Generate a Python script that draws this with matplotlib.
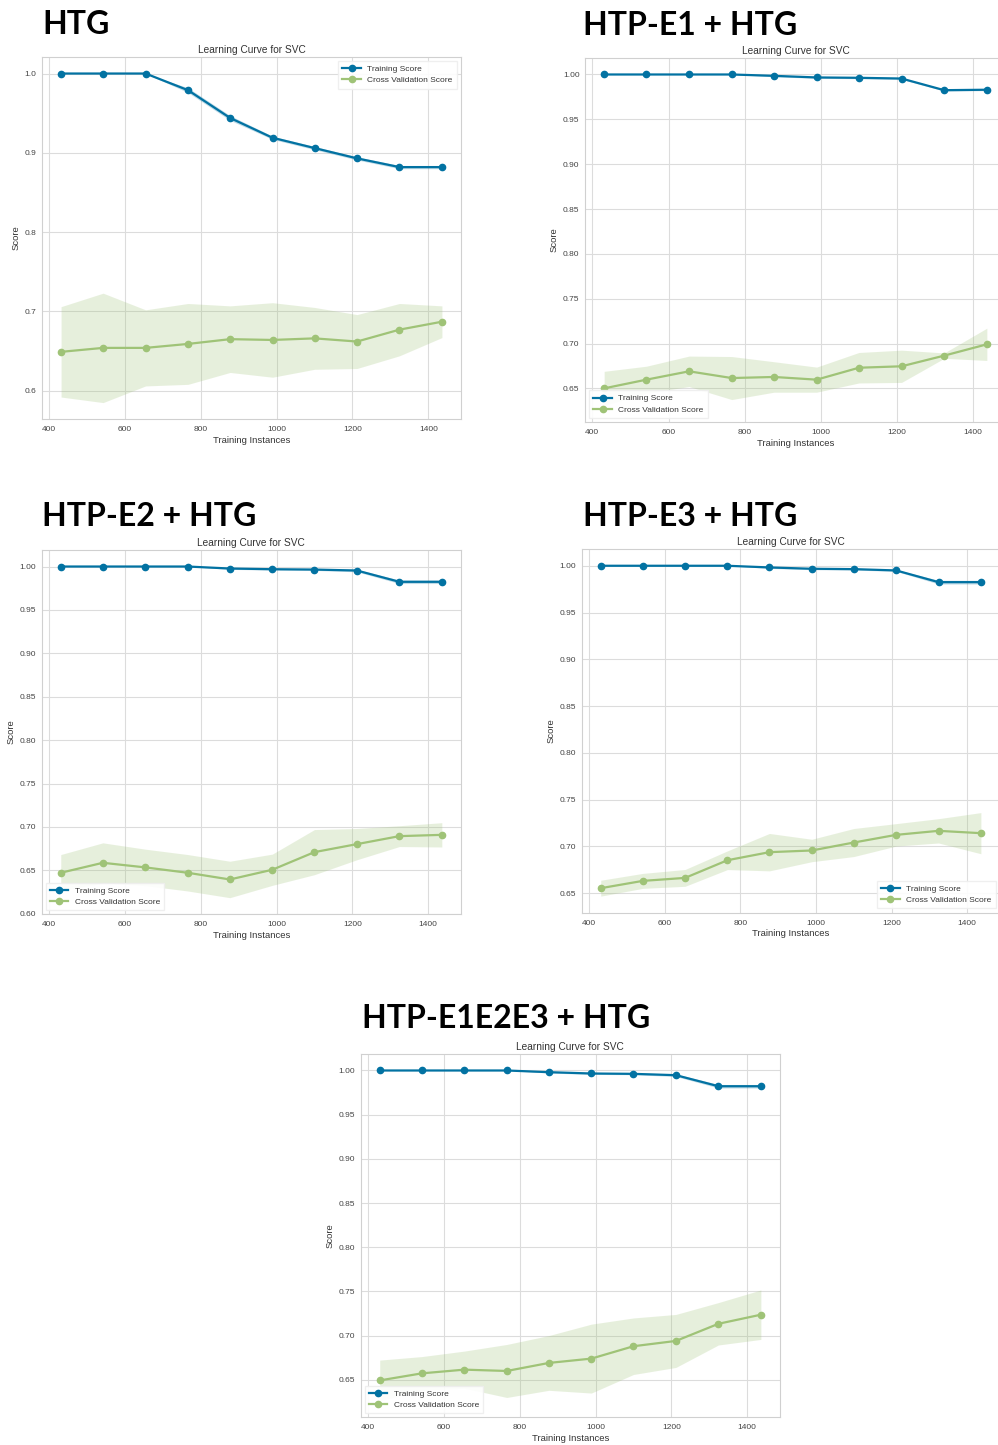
import matplotlib.pyplot as plt
from matplotlib.ticker import MultipleLocator, FormatStrFormatter

# training set sizes used by the learning curves
sizes = [431, 542, 654, 766, 877, 989, 1100, 1212, 1324, 1436]

# HTG
htg_train = [1.0, 1.0, 1.0, 0.979, 0.944, 0.919, 0.906, 0.893, 0.882, 0.882]
htg_train_std = [0.0, 0.0, 0.0, 0.003, 0.003, 0.002, 0.002, 0.002, 0.002, 0.002]
htg_cv = [0.649, 0.654, 0.654, 0.659, 0.665, 0.664, 0.666, 0.662, 0.677, 0.687]
htg_cv_std = [0.057, 0.069, 0.048, 0.051, 0.042, 0.047, 0.039, 0.034, 0.033, 0.020]

# HTP-E1 + HTG
e1_train = [1.0, 1.0, 1.0, 1.0, 0.9985, 0.9967, 0.9963, 0.9955, 0.9825, 0.983]
e1_train_std = [0.0, 0.0, 0.0, 0.0, 0.001, 0.001, 0.001, 0.001, 0.001, 0.001]
e1_cv = [0.650, 0.6597, 0.669, 0.6615, 0.6627, 0.6597, 0.673, 0.6746, 0.6865, 0.6991]
e1_cv_std = [0.019, 0.015, 0.017, 0.024, 0.017, 0.014, 0.017, 0.018, 0.003, 0.018]

# HTP-E2 + HTG
e2_train = [1.0, 1.0, 1.0, 1.0, 0.9977, 0.9969, 0.9965, 0.9954, 0.9824, 0.9824]
e2_train_std = [0.0, 0.0, 0.0, 0.0, 0.001, 0.001, 0.001, 0.0015, 0.002, 0.002]
e2_cv = [0.6472, 0.6587, 0.6534, 0.6472, 0.6395, 0.6507, 0.671, 0.6802, 0.6894, 0.6909]
e2_cv_std = [0.021, 0.023, 0.021, 0.021, 0.021, 0.018, 0.026, 0.018, 0.012, 0.014]

# HTP-E3 + HTG
e3_train = [1.0, 1.0, 1.0, 1.0, 0.9982, 0.9968, 0.9964, 0.995, 0.9825, 0.9825]
e3_train_std = [0.0, 0.0, 0.0, 0.0, 0.001, 0.001, 0.001, 0.001, 0.002, 0.002]
e3_cv = [0.6554, 0.6632, 0.6664, 0.6853, 0.6939, 0.6957, 0.7042, 0.7124, 0.7167, 0.7142]
e3_cv_std = [0.0085, 0.008, 0.009, 0.010, 0.020, 0.012, 0.015, 0.012, 0.013, 0.022]

# HTP-E1E2E3 + HTG
all_train = [1.0, 1.0, 1.0, 1.0, 0.9981, 0.9966, 0.9962, 0.9947, 0.9822, 0.9822]
all_train_std = [0.0, 0.0, 0.0, 0.0, 0.001, 0.001, 0.001, 0.0015, 0.002, 0.002]
all_cv = [0.6492, 0.6572, 0.6614, 0.6599, 0.669, 0.6739, 0.6879, 0.6939, 0.7133, 0.7236]
all_cv_std = [0.023, 0.019, 0.021, 0.030, 0.031, 0.039, 0.032, 0.030, 0.024, 0.028]

BLUE = '#0272a2'
GREEN = '#9fc377'

plt.rcParams['font.family'] = ['Liberation Sans', 'DejaVu Sans']

fig = plt.figure(figsize=(9.98, 14.45), dpi=100)

# (heading, left, top) in pixels, axes rect in figure fraction, legend location, y step
panels = [
    ('HTG', (42, 10), [0.0421, 0.7100, 0.4198, 0.2505], 'upper right', 0.1,
     htg_train, htg_train_std, htg_cv, htg_cv_std),
    ('HTP-E1 + HTG', (583, 11), [0.5862, 0.7080, 0.4218, 0.2519], 'lower left', 0.05,
     e1_train, e1_train_std, e1_cv, e1_cv_std),
    ('HTP-E2 + HTG', (42, 502), [0.0418, 0.3673, 0.4200, 0.2521], 'lower left', 0.05,
     e2_train, e2_train_std, e2_cv, e2_cv_std),
    ('HTP-E3 + HTG', (583, 502), [0.5829, 0.3684, 0.4190, 0.2515], 'lower right', 0.05,
     e3_train, e3_train_std, e3_cv, e3_cv_std),
    ('HTP-E1E2E3 + HTG', (362, 1004), [0.3614, 0.0192, 0.4201, 0.2514], 'lower left', 0.05,
     all_train, all_train_std, all_cv, all_cv_std),
]

for heading, (hx, hy), rect, loc, ystep, tr, tr_sd, cv, cv_sd in panels:
    ax = fig.add_axes(rect)
    ax.set_facecolor('white')

    lo = [m - s for m, s in zip(tr, tr_sd)]
    hi = [m + s for m, s in zip(tr, tr_sd)]
    ax.fill_between(sizes, lo, hi, color=BLUE, alpha=0.25, lw=0)
    lo = [m - s for m, s in zip(cv, cv_sd)]
    hi = [m + s for m, s in zip(cv, cv_sd)]
    ax.fill_between(sizes, lo, hi, color=GREEN, alpha=0.25, lw=0)

    ax.plot(sizes, tr, 'o-', color=BLUE, lw=1.6, ms=4.5, label='Training Score')
    ax.plot(sizes, cv, 'o-', color=GREEN, lw=1.6, ms=4.5, label='Cross Validation Score')

    ax.xaxis.set_major_locator(MultipleLocator(200))
    ax.yaxis.set_major_locator(MultipleLocator(ystep))
    ax.yaxis.set_major_formatter(FormatStrFormatter('%.1f' if ystep == 0.1 else '%.2f'))
    ax.grid(True, color='#dcdcdc', lw=0.8)
    ax.set_axisbelow(True)
    for sp in ax.spines.values():
        sp.set_color('#d0d0d0')
        sp.set_linewidth(0.8)
    ax.tick_params(axis='x', labelsize=6, colors='#444444', length=0, pad=5)
    ax.tick_params(axis='y', labelsize=6, colors='#444444', length=0, pad=4)

    ax.set_title('Learning Curve for SVC', fontsize=7.3, color='#333333', pad=3)
    ax.set_xlabel('Training Instances', fontsize=6.8, color='#333333', labelpad=2)
    ax.set_ylabel('Score', fontsize=6.8, color='#333333', labelpad=3)

    leg = ax.legend(loc=loc, fontsize=6, frameon=True, fancybox=False,
                    handlelength=2.2, borderpad=0.5, labelspacing=0.4)
    leg.get_frame().set_facecolor('white')
    leg.get_frame().set_edgecolor('#eeeeee')
    leg.get_frame().set_alpha(0.9)
    for t in leg.get_texts():
        t.set_color('#333333')

    fig.text(hx / 998, 1 - hy / 1445, heading, fontsize=23, fontweight='bold',
             family='Lato', color='black', ha='left', va='top')

fig.savefig('out.png', dpi=100, facecolor='white')
